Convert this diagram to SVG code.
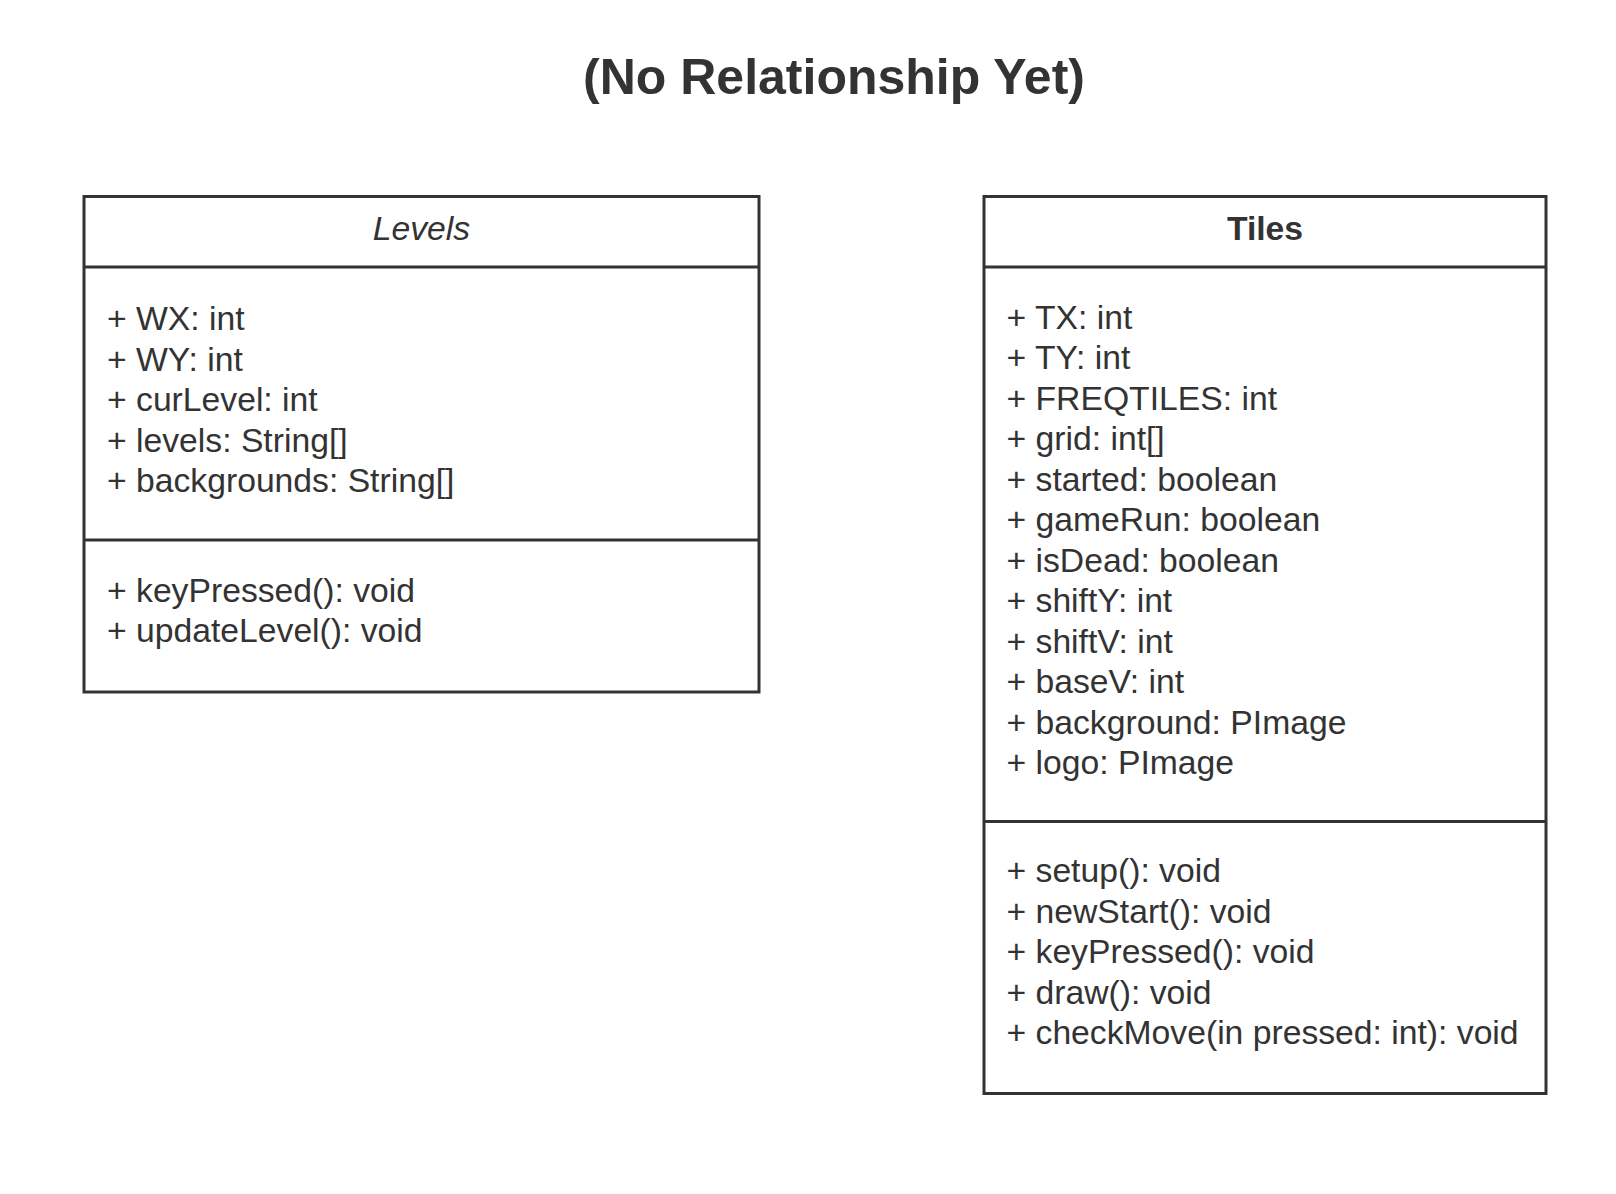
<svg xmlns="http://www.w3.org/2000/svg" width="1616" height="1194" viewBox="0 0 1616 1194">
<style>
.box{fill:#ffffff;stroke:#333333;stroke-width:3}
.sep{stroke:#333333;stroke-width:3;fill:none}
.t{font-family:"Liberation Sans",Arial,sans-serif;font-size:33.7px;fill:#333333}
.title{font-family:"Liberation Sans",Arial,sans-serif;font-size:50px;font-weight:bold;fill:#333333}
</style>
<rect width="1616" height="1194" fill="#ffffff"/>
<text class="title" x="834" y="94" text-anchor="middle">(No Relationship Yet)</text>
<g id="levels">
<rect class="box" x="84" y="196.5" width="675" height="495.5"/>
<line class="sep" x1="84" y1="267" x2="759" y2="267"/>
<line class="sep" x1="84" y1="540" x2="759" y2="540"/>
<text class="t" x="421.5" y="239.5" text-anchor="middle" font-style="italic">Levels</text>
<text class="t" x="107" y="330">+ WX: int</text>
<text class="t" x="107" y="370.5">+ WY: int</text>
<text class="t" x="107" y="411">+ curLevel: int</text>
<text class="t" x="107" y="451.5">+ levels: String[]</text>
<text class="t" x="107" y="492">+ backgrounds: String[]</text>
<text class="t" x="107" y="601.7">+ keyPressed(): void</text>
<text class="t" x="107" y="642.3">+ updateLevel(): void</text>
</g>
<g id="tiles">
<rect class="box" x="984" y="196.5" width="562" height="897"/>
<line class="sep" x1="984" y1="267" x2="1546" y2="267"/>
<line class="sep" x1="984" y1="821.5" x2="1546" y2="821.5"/>
<text class="t" x="1265" y="239.5" text-anchor="middle" font-weight="bold">Tiles</text>
<text class="t" x="1006.5" y="328.5">+ TX: int</text>
<text class="t" x="1006.5" y="369">+ TY: int</text>
<text class="t" x="1006.5" y="409.5">+ FREQTILES: int</text>
<text class="t" x="1006.5" y="450">+ grid: int[]</text>
<text class="t" x="1006.5" y="490.5">+ started: boolean</text>
<text class="t" x="1006.5" y="531">+ gameRun: boolean</text>
<text class="t" x="1006.5" y="571.5">+ isDead: boolean</text>
<text class="t" x="1006.5" y="612">+ shiftY: int</text>
<text class="t" x="1006.5" y="652.5">+ shiftV: int</text>
<text class="t" x="1006.5" y="693">+ baseV: int</text>
<text class="t" x="1006.5" y="733.5">+ background: PImage</text>
<text class="t" x="1006.5" y="774">+ logo: PImage</text>
<text class="t" x="1006.5" y="882">+ setup(): void</text>
<text class="t" x="1006.5" y="922.5">+ newStart(): void</text>
<text class="t" x="1006.5" y="963">+ keyPressed(): void</text>
<text class="t" x="1006.5" y="1003.5">+ draw(): void</text>
<text class="t" x="1006.5" y="1044">+ checkMove(in pressed: int): void</text>
</g>
<g id="connectors"></g>
</svg>
